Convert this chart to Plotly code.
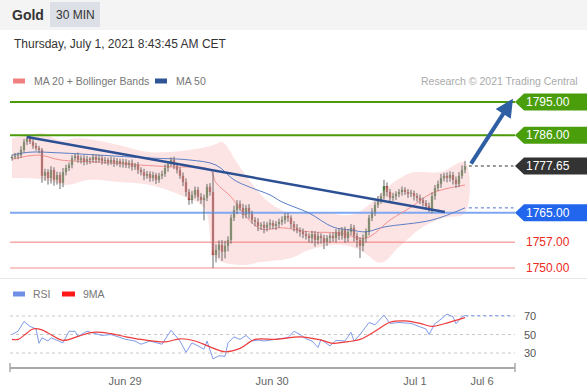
import plotly.graph_objects as go

W, H = 587, 392

# ---------------- data ----------------
closes = [
    1780.1, 1780.4, 1780.6, 1782.0, 1784.2, 1785.2, 1784.2, 1783.1, 1782.5, 1782.0,
    1775.0, 1776.0, 1774.4, 1776.6, 1773.9, 1775.2, 1773.1, 1776.0, 1777.1, 1777.9,
    1779.8, 1780.4, 1779.3, 1779.8, 1778.7, 1779.5, 1779.3, 1780.1, 1779.3, 1779.8,
    1779.0, 1779.3, 1778.7, 1779.3, 1778.5, 1779.0, 1778.2, 1778.7, 1777.9, 1778.5,
    1777.4, 1777.9, 1776.6, 1776.0, 1775.0, 1775.5, 1774.4, 1775.2, 1773.9, 1775.0,
    1775.5, 1777.1, 1778.2, 1779.3, 1777.7, 1776.6, 1775.0, 1773.3, 1770.6, 1768.4,
    1769.8, 1771.2, 1769.3, 1768.4, 1769.0, 1772.0, 1770.6, 1753.5, 1754.9, 1756.3,
    1754.4, 1756.0, 1757.6, 1763.6, 1765.7, 1767.4, 1766.3, 1764.4, 1766.3, 1764.6,
    1763.0, 1762.5, 1761.4, 1761.7, 1760.9, 1761.7, 1762.2, 1761.4, 1761.9, 1762.5,
    1763.0, 1764.1, 1763.6, 1761.9, 1760.9, 1760.3, 1759.8, 1759.2, 1758.7, 1758.1,
    1759.2, 1757.6, 1758.7, 1758.1, 1757.1, 1758.1, 1758.7, 1758.1, 1759.8, 1758.7,
    1760.3, 1758.1, 1759.8, 1760.9, 1758.7, 1757.6, 1756.0, 1758.1, 1759.8, 1763.6,
    1765.2, 1767.1, 1768.4, 1769.5, 1772.2, 1770.6, 1769.0, 1769.5, 1770.1, 1770.6,
    1771.2, 1770.6, 1770.1, 1770.3, 1769.5, 1769.0, 1768.4, 1767.6, 1766.8, 1765.7,
    1769.5, 1771.7, 1772.8, 1774.4, 1775.0, 1774.4, 1775.2, 1773.9, 1772.8, 1775.0,
    1776.6, 1777.65,
]
first_open = 1779.8
wick_up = [
    0.6, 0.8, 0.7, 1.0, 0.8, 0.6, 0.9, 0.7, 0.8, 0.6,
    0.5, 0.9, 0.8, 1.0, 0.7, 0.9, 0.8, 1.1, 0.9, 0.7,
    0.8, 0.6, 0.9, 0.7, 0.8, 0.9, 0.6, 0.8, 0.7, 0.9,
    0.7, 0.8, 0.6, 0.9, 0.7, 0.8, 0.6, 0.9, 0.8, 0.7,
    0.9, 0.6, 0.8, 0.7, 0.9, 0.8, 0.7, 0.9, 0.6, 0.8,
    0.9, 1.0, 0.8, 0.7, 0.9, 0.8, 0.7, 0.9, 1.0, 0.8,
    1.1, 0.9, 0.8, 1.0, 0.9, 0.8, 1.0, 5.4, 1.5, 1.2,
    1.3, 1.4, 1.0, 0.9, 1.2, 1.0, 0.9, 1.1, 0.8, 1.0,
    0.9, 0.8, 1.0, 0.7, 0.9, 0.8, 1.0, 0.7, 0.8, 0.9,
    1.0, 0.8, 0.9, 0.7, 0.8, 1.0, 0.7, 0.9, 0.8, 0.7,
    0.9, 0.8, 1.0, 0.7, 0.9, 0.8, 0.7, 0.9, 0.8, 1.0,
    0.8, 0.9, 0.7, 1.0, 0.8, 0.9, 0.7, 1.0, 0.9, 0.8,
    1.0, 0.9, 1.1, 0.8, 1.7, 1.0, 0.8, 0.9, 0.7, 0.8,
    0.9, 0.7, 0.8, 0.9, 0.7, 0.8, 0.9, 0.7, 0.8, 0.9,
    1.0, 0.8, 0.9, 1.1, 0.8, 0.9, 1.0, 0.8, 0.9, 1.0,
    1.2, 1.4,
]
wick_dn = [
    0.7, 0.6, 0.9, 0.8, 0.7, 0.9, 0.6, 0.8, 0.7, 0.9,
    1.9, 1.4, 1.8, 1.5, 1.6, 1.3, 1.7, 1.2, 0.9, 0.8,
    0.9, 0.7, 0.8, 1.0, 0.9, 0.7, 1.1, 0.8, 0.9, 0.7,
    1.0, 0.8, 0.9, 0.7, 1.1, 0.8, 0.9, 1.0, 0.8, 0.9,
    1.0, 0.8, 1.1, 0.9, 1.2, 0.8, 1.0, 0.9, 1.1, 0.8,
    0.9, 0.8, 1.0, 0.7, 0.9, 1.0, 0.8, 1.1, 1.2, 1.3,
    1.0, 0.9, 1.1, 1.0, 5.5, 0.9, 1.0, 3.5, 2.0, 2.2,
    2.5, 1.8, 1.5, 1.0, 0.9, 1.1, 0.8, 1.0, 0.9, 1.2,
    1.0, 1.2, 1.4, 1.1, 1.5, 1.0, 1.2, 0.9, 1.1, 1.0,
    0.9, 1.0, 1.1, 1.2, 1.0, 0.9, 1.3, 1.1, 1.0, 1.2,
    1.4, 1.8, 1.2, 1.5, 2.0, 1.1, 1.3, 1.0, 1.2, 1.1,
    1.0, 1.3, 1.1, 0.9, 1.6, 2.0, 3.3, 1.5, 1.2, 1.0,
    0.9, 1.1, 0.8, 1.0, 0.9, 1.2, 1.0, 0.8, 1.1, 0.9,
    1.0, 0.8, 1.1, 0.9, 1.2, 1.0, 1.1, 0.9, 1.0, 0.5,
    0.9, 1.0, 0.8, 1.1, 0.9, 1.2, 1.0, 1.3, 1.1, 0.9,
    0.8, 0.9,
]

# indicator readings (candle index -> value)
ma20_idx = [0, 9, 16, 29, 43, 53, 66, 68, 73, 77, 83, 90, 99, 109, 118, 126, 133, 140, 151]
ma20_val = [1779.5, 1780.6, 1779.3, 1778.7, 1777.9, 1777.4, 1776.6, 1773.1, 1769.3, 1764.9,
            1760.6, 1760.9, 1759.8, 1759.5, 1758.1, 1763.0, 1766.5, 1770.3, 1772.5]
ma50_idx = [0, 6, 16, 29, 46, 59, 68, 74, 79, 86, 90, 99, 107, 113, 118, 124, 140, 151]
ma50_val = [1780.6, 1781.4, 1781.2, 1780.6, 1779.8, 1779.3, 1777.9, 1773.9, 1772.0, 1769.8,
            1767.9, 1764.9, 1761.1, 1760.3, 1759.8, 1761.1, 1763.0, 1766.3]
bb_up_idx = [0, 6, 10, 16, 23, 36, 46, 59, 67, 70, 75, 79, 86, 93, 103, 113, 119, 126, 133, 136, 143, 151]
bb_up_val = [1785.2, 1786.1, 1786.6, 1784.7, 1785.2, 1783.3, 1781.4, 1782.0, 1783.3, 1784.2, 1778.5,
             1773.9, 1767.6, 1764.9, 1765.2, 1764.4, 1767.1, 1772.5, 1775.8, 1776.0, 1776.0, 1778.7]
bb_lo_idx = [0, 10, 18, 26, 36, 46, 56, 64, 68, 76, 83, 93, 99, 109, 116, 123, 129, 137, 144, 151]
bb_lo_val = [1774.4, 1774.1, 1772.5, 1773.9, 1773.3, 1772.5, 1769.8, 1766.3, 1752.7, 1750.8,
             1751.6, 1752.7, 1754.9, 1756.3, 1754.9, 1751.4, 1755.7, 1761.1, 1763.6, 1764.9]

rsi_idx = [0, 2, 4, 6, 8, 9, 10, 12, 13, 16, 17, 19, 21, 22, 25, 27, 30, 33, 36, 38,
           41, 43, 46, 48, 50, 53, 55, 56, 58, 60, 62, 64, 65, 66, 67, 69, 71, 72, 74, 76,
           78, 80, 82, 84, 87, 89, 92, 94, 96, 98, 100, 102, 103, 106, 108, 111, 113, 114, 116, 119,
           121, 124, 126, 129, 133, 136, 138, 139, 141, 142, 145, 147, 148, 150, 151]
rsi_val = [50, 53.5, 64, 58.8, 56, 40.5, 46.5, 43, 46.5, 43, 41, 53.5, 53.5, 48, 53.5, 51.7, 49, 50, 46.5, 44.7,
           43, 39.5, 43, 41, 39.5, 54.6, 46.5, 43, 30.7, 41, 37.7, 34.2, 43, 32.4, 23.7, 27, 26.5, 41, 47.5, 44.7,
           49, 43, 44, 43, 44.7, 45.4, 46.5, 53.5, 50, 45.4, 43, 36, 44.7, 37.7, 43.7, 43, 52.4, 43, 50, 63,
           60.5, 71, 62, 63, 62, 58.8, 56, 50, 62, 64, 72, 69.3, 61.6, 69.3, 70.4]
rsi_ma_idx = [0, 2, 5, 7, 10, 12, 17, 22, 27, 33, 38, 43, 51, 56, 61, 66, 71, 76, 81, 88,
              96, 103, 107, 112, 116, 121, 126, 131, 136, 140, 144, 151]
rsi_ma_val = [44.7, 44.7, 51.7, 56, 55, 51.7, 43.7, 48, 52.4, 51, 47.5, 44.7, 42, 45.4, 43, 36.7,
              31.4, 35, 44.7, 44.7, 47.5, 44, 40.5, 42.3, 44.7, 53.5, 63.3, 64.7, 62, 58.8, 61.6, 68.2]
rsi_levels = [70, 50, 30]

levels = [1795.00, 1786.00, 1765.00, 1757.00, 1750.00]
level_colors = ["#4a9a0a", "#4a9a0a", "#7ea6f2", "#f47a7a", "#f9b4b4"]
level_widths = [2, 2, 2, 1, 1.5]
last_price = 1777.65

trend_idx = [5, 144.3]
trend_val = [1785.5, 1765.2]
arrow_from = (152.7, 1777.9)
arrow_to = (167.0, 1795.9)

tick_pos = [37.7, 86.7, 134.3, 156.7]
tick_text = ["Jun 29", "Jun 30", "Jul 1", "Jul 6"]

X_RANGE = [-0.667, 167.67]

# ---------------- figure ----------------
n = len(closes)
idx = list(range(n))
opens = [first_open] + closes[:-1]
highs = [max(o, c) + u for o, c, u in zip(opens, closes, wick_up)]
lows = [min(o, c) - d for o, c, d in zip(opens, closes, wick_dn)]

fig = go.Figure()

# Bollinger band fill
fig.add_trace(go.Scatter(
    x=bb_up_idx + bb_lo_idx[::-1], y=bb_up_val + bb_lo_val[::-1],
    fill="toself", fillcolor="rgba(252,205,205,0.55)", line=dict(width=0, shape="spline"),
    mode="lines", hoverinfo="skip", xaxis="x", yaxis="y"))

# level lines
for lv, col, lw in zip(levels, level_colors, level_widths):
    fig.add_trace(go.Scatter(x=X_RANGE, y=[lv, lv], mode="lines",
                             line=dict(color=col, width=lw), hoverinfo="skip",
                             xaxis="x", yaxis="y"))

# moving averages
fig.add_trace(go.Scatter(x=ma50_idx, y=ma50_val, mode="lines",
                         line=dict(color="#5b7fc4", width=1, shape="spline"),
                         xaxis="x", yaxis="y"))
fig.add_trace(go.Scatter(x=ma20_idx, y=ma20_val, mode="lines",
                         line=dict(color="#f39090", width=1, shape="spline"),
                         xaxis="x", yaxis="y"))

# wicks
wx, wy = [], []
for i, lo, hi in zip(idx, lows, highs):
    wx += [i, i, None]
    wy += [lo, hi, None]
fig.add_trace(go.Scatter(x=wx, y=wy, mode="lines", line=dict(color="#6a6a6a", width=1),
                         hoverinfo="skip", xaxis="x", yaxis="y"))
# bodies
body_h = [max(abs(c - o), 0.3) for o, c in zip(opens, closes)]
body_b = [min(o, c) for o, c in zip(opens, closes)]
body_c = ["#2f8a1c" if c >= o else "#ea1f1a" for o, c in zip(opens, closes)]
fig.add_trace(go.Bar(x=idx, y=body_h, base=body_b, width=0.8,
                     marker=dict(color=body_c, line=dict(width=0)),
                     xaxis="x", yaxis="y"))

# trend line
fig.add_trace(go.Scatter(x=trend_idx, y=trend_val, mode="lines",
                         line=dict(color="#2c5093", width=2.5), xaxis="x", yaxis="y"))

# dotted extensions
fig.add_trace(go.Scatter(x=[idx[-1] + 1.3, X_RANGE[1] - 0.5], y=[last_price, last_price], mode="lines",
                         line=dict(color="#333333", width=1, dash="dot"), xaxis="x", yaxis="y"))
fig.add_trace(go.Scatter(x=[idx[-1] + 1.3, X_RANGE[1] - 0.5], y=[ma50_val[-1], ma50_val[-1]], mode="lines",
                         line=dict(color="#4a72c8", width=1, dash="dot"), xaxis="x", yaxis="y"))

# RSI panel
for lv in rsi_levels:
    fig.add_trace(go.Scatter(x=X_RANGE, y=[lv, lv], mode="lines",
                             line=dict(color="#c8c8c8", width=1, dash="dot"),
                             xaxis="x2", yaxis="y2"))
fig.add_trace(go.Scatter(x=[rsi_idx[-1], X_RANGE[1] - 0.5], y=[rsi_val[-1], rsi_val[-1]], mode="lines",
                         line=dict(color="#8fa8ee", width=1.3, dash="dot"), xaxis="x2", yaxis="y2"))
fig.add_trace(go.Scatter(x=rsi_idx, y=rsi_val, mode="lines",
                         line=dict(color="#7f9bea", width=1), xaxis="x2", yaxis="y2"))
fig.add_trace(go.Scatter(x=rsi_ma_idx, y=rsi_ma_val, mode="lines",
                         line=dict(color="#ef3a3a", width=1.2, shape="spline"),
                         xaxis="x2", yaxis="y2"))

FONT = "Arial"


def py(px):
    return 1 - px / H


def pxx(px):
    return px / W


shapes = []
annotations = []

# header
shapes.append(dict(type="rect", xref="paper", yref="paper", x0=0, x1=1, y0=py(30), y1=1,
                   fillcolor="#f4f4f4", line=dict(width=0), layer="below"))
shapes.append(dict(type="rect", xref="paper", yref="paper", x0=pxx(50), x1=pxx(100), y0=py(27), y1=py(2),
                   fillcolor="#dcdfe5", line=dict(width=0), layer="below"))
annotations.append(dict(text="<b>Gold</b>", x=pxx(10), y=py(15), xref="paper", yref="paper",
                        xanchor="left", yanchor="middle", showarrow=False,
                        font=dict(family=FONT, size=14, color="#333333")))
annotations.append(dict(text="30 MIN", x=pxx(75), y=py(15), xref="paper", yref="paper",
                        xanchor="center", yanchor="middle", showarrow=False,
                        font=dict(family=FONT, size=12, color="#333333")))
annotations.append(dict(text="Thursday, July 1, 2021 8:43:45 AM CET", x=pxx(12), y=py(44),
                        xref="paper", yref="paper", xanchor="left", yanchor="middle", showarrow=False,
                        font=dict(family=FONT, size=12, color="#333333")))

# legends
shapes.append(dict(type="rect", xref="paper", yref="paper", x0=pxx(13), x1=pxx(25), y0=py(83.5), y1=py(78.5),
                   fillcolor="#f08080", line=dict(width=0)))
annotations.append(dict(text="MA 20 + Bollinger Bands", x=pxx(32), y=py(81), xref="paper", yref="paper",
                        xanchor="left", yanchor="middle", showarrow=False,
                        font=dict(family=FONT, size=10.5, color="#777777")))
shapes.append(dict(type="rect", xref="paper", yref="paper", x0=pxx(155), x1=pxx(167), y0=py(83.5), y1=py(78.5),
                   fillcolor="#2f5597", line=dict(width=0)))
annotations.append(dict(text="MA 50", x=pxx(174), y=py(81), xref="paper", yref="paper",
                        xanchor="left", yanchor="middle", showarrow=False,
                        font=dict(family=FONT, size=10.5, color="#777777")))
annotations.append(dict(text="Research © 2021 Trading Central", x=pxx(580), y=py(81), xref="paper",
                        yref="paper", xanchor="right", yanchor="middle", showarrow=False,
                        font=dict(family=FONT, size=10.5, color="#aaaaaa")))

shapes.append(dict(type="rect", xref="paper", yref="paper", x0=pxx(13), x1=pxx(25), y0=py(296.5), y1=py(291.5),
                   fillcolor="#6f8ee6", line=dict(width=0)))
annotations.append(dict(text="RSI", x=pxx(31), y=py(294), xref="paper", yref="paper",
                        xanchor="left", yanchor="middle", showarrow=False,
                        font=dict(family=FONT, size=10.5, color="#777777")))
shapes.append(dict(type="rect", xref="paper", yref="paper", x0=pxx(62), x1=pxx(75), y0=py(296.5), y1=py(291.5),
                   fillcolor="#ff1a1a", line=dict(width=0)))
annotations.append(dict(text="9MA", x=pxx(81), y=py(294), xref="paper", yref="paper",
                        xanchor="left", yanchor="middle", showarrow=False,
                        font=dict(family=FONT, size=10.5, color="#777777")))

# separator
shapes.append(dict(type="line", xref="paper", yref="paper", x0=0, x1=1, y0=py(278.5), y1=py(278.5),
                   line=dict(color="#e6e6e6", width=1)))

# price tags
PX_PER_UNIT = 3.69
half = 8.5 / PX_PER_UNIT
tag_levels = [levels[0], levels[1], last_price, levels[2]]
tag_colors = ["#4a9e0c", "#4a9e0c", "#333333", "#2266ee"]
for lv, col in zip(tag_levels, tag_colors):
    path = (f"M {pxx(515)},{lv} L {pxx(524)},{lv + half} L {pxx(587)},{lv + half} "
            f"L {pxx(587)},{lv - half} L {pxx(524)},{lv - half} Z")
    shapes.append(dict(type="path", xref="paper", yref="y", path=path,
                       fillcolor=col, line=dict(width=0)))
    annotations.append(dict(text=f"{lv:.2f}", x=pxx(524), y=lv, xref="paper", yref="y",
                            xanchor="left", yanchor="middle", showarrow=False,
                            font=dict(family=FONT, size=12, color="#ffffff")))
for lv in levels[3:]:
    annotations.append(dict(text=f"{lv:.2f}", x=pxx(524), y=lv, xref="paper", yref="y",
                            xanchor="left", yanchor="middle", showarrow=False,
                            font=dict(family=FONT, size=12, color="#ee2a22")))

# target arrow
annotations.append(dict(x=arrow_to[0], y=arrow_to[1], ax=arrow_from[0], ay=arrow_from[1],
                        xref="x", yref="y", axref="x", ayref="y", text="", showarrow=True,
                        arrowhead=2, arrowsize=0.9, arrowwidth=4, arrowcolor="#2f5fa3"))

# RSI level labels
for lv in rsi_levels:
    annotations.append(dict(text=str(lv), x=pxx(522), y=lv, xref="paper", yref="y2",
                            xanchor="left", yanchor="middle", showarrow=False,
                            font=dict(family=FONT, size=11, color="#555555")))

# axis end caps
for xp in (10, 515):
    shapes.append(dict(type="line", xref="paper", yref="paper", x0=pxx(xp), x1=pxx(xp),
                       y0=py(372), y1=py(363), line=dict(color="#aaaaaa", width=1.5)))

fig.update_layout(
    width=W, height=H, margin=dict(l=0, r=0, t=0, b=0),
    paper_bgcolor="#ffffff", plot_bgcolor="rgba(0,0,0,0)",
    showlegend=False, barmode="overlay", hovermode=False,
    shapes=shapes, annotations=annotations,
    xaxis=dict(domain=[pxx(10), pxx(515)], range=X_RANGE, visible=False, anchor="y"),
    yaxis=dict(domain=[py(275), py(90)], range=[1748.1, 1798.25], visible=False),
    xaxis2=dict(domain=[pxx(10), pxx(515)], range=X_RANGE, anchor="y2", showline=True,
                linecolor="#aaaaaa", linewidth=1.5, ticks="", showgrid=False, zeroline=False,
                tickvals=tick_pos, ticktext=tick_text, ticklabelstandoff=3,
                tickfont=dict(family=FONT, size=11, color="#666666")),
    yaxis2=dict(domain=[py(367), py(305)], range=[14.9, 81.9], visible=False),
)

fig.write_html("out.html", config={"staticPlot": True},
               post_script="document.body.style.margin='0';document.body.style.overflow='hidden';")
